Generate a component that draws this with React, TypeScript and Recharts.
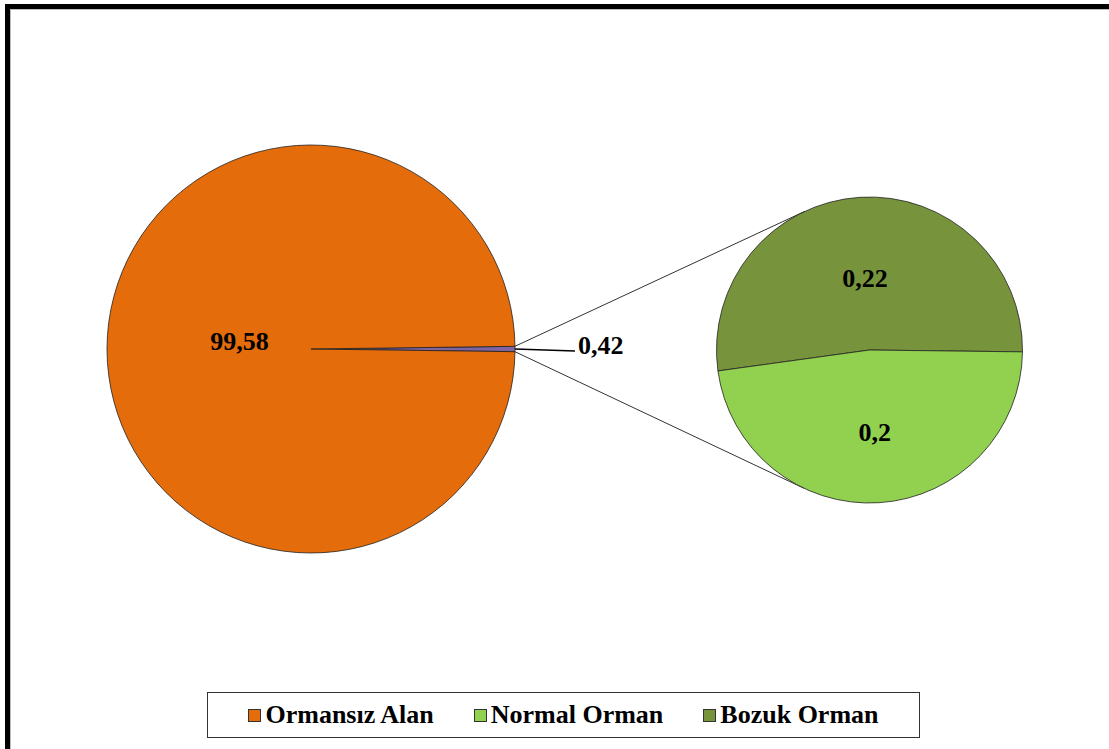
import { Cell, Pie, PieChart } from 'recharts'

const mainCategories = ['Orman', 'Ormansız Alan']
const mainValues = [0.42, 99.58]
const forestCategories = ['Bozuk Orman', 'Normal Orman']
const forestValues = [0.22, 0.2]
const legendLabels = ['Ormansız Alan', 'Normal Orman', 'Bozuk Orman']

const COLORS: Record<string, string> = {
  Orman: '#8064A2',
  'Ormansız Alan': '#E46C0A',
  'Normal Orman': '#92D050',
  'Bozuk Orman': '#77933C',
}

const FONT = '"Liberation Serif", "Times New Roman", serif'
const RAD = Math.PI / 180

// pie geometry (px)
const MAIN = { cx: 311, cy: 349, r: 204 }
const SUB = { cx: 869.5, cy: 350, r: 153 }

const mainData = mainCategories.map((name, i) => ({ name, value: mainValues[i] }))
const forestData = forestCategories.map((name, i) => ({ name, value: forestValues[i] }))

const fmt = (v: number) => String(v).replace('.', ',')

// forest slice sits centred on 3 o'clock of the main pie
const mainTotal = mainValues.reduce((a, b) => a + b, 0)
const forestSweep = (mainValues[0] / mainTotal) * 360
const mainStart = -forestSweep / 2
const subStart = -0.7

function polar(cx: number, cy: number, r: number, deg: number) {
  return { x: cx + r * Math.cos(-deg * RAD), y: cy + r * Math.sin(-deg * RAD) }
}

function mainLabel(props: any) {
  const { cx, cy, outerRadius, midAngle, value, index } = props
  if (index === 0) {
    const p0 = polar(cx, cy, outerRadius, midAngle)
    const x1 = p0.x + 60
    const y1 = p0.y + 2
    return (
      <g key={`ml-${index}`}>
        <polyline points={`${p0.x},${p0.y} ${x1},${y1}`} stroke="#000" strokeWidth={1.5} fill="none" />
        <text x={x1 + 3} y={y1 - 6} dominantBaseline="central" fontFamily={FONT} fontWeight="bold" fontSize={26} fill="#000">
          {fmt(value)}
        </text>
      </g>
    )
  }
  const p = polar(cx, cy, outerRadius * 0.35, midAngle)
  return (
    <text key={`ml-${index}`} x={p.x} y={p.y - 8} textAnchor="middle" dominantBaseline="central" fontFamily={FONT} fontWeight="bold" fontSize={26} fill="#000">
      {fmt(value)}
    </text>
  )
}

function forestLabel(props: any) {
  const { cx, cy, outerRadius, midAngle, value, index } = props
  const p = polar(cx, cy, outerRadius * (index === 0 ? 0.47 : 0.54), midAngle)
  return (
    <text key={`fl-${index}`} x={p.x} y={p.y} textAnchor="middle" dominantBaseline="central" fontFamily={FONT} fontWeight="bold" fontSize={26} fill="#000">
      {fmt(value)}
    </text>
  )
}

// tangent lines from the forest wedge edges to the secondary pie
function connectors() {
  const half = forestSweep / 2
  return [half, -half].map((edge) => {
    const p = polar(MAIN.cx, MAIN.cy, MAIN.r, edge)
    const dx = p.x - SUB.cx
    const dy = p.y - SUB.cy
    const d = Math.hypot(dx, dy)
    const phi = Math.atan2(dy, dx)
    const alpha = Math.acos(SUB.r / d)
    const theta = edge > 0 ? phi + alpha : phi - alpha
    return { x1: p.x, y1: p.y, x2: SUB.cx + SUB.r * Math.cos(theta), y2: SUB.cy + SUB.r * Math.sin(theta) }
  })
}

export default function App() {
  return (
    <div style={{ position: 'absolute', left: 0, top: 0, width: 1109, height: 749, overflow: 'hidden', background: '#fff' }}>
      <div style={{ position: 'absolute', left: 5, top: 4, width: 1200, height: 900, border: '5px solid #000' }}>
        <div style={{ width: '100%', height: '100%', borderLeft: '1px solid #bbb', borderTop: '1px solid #bbb' }} />
      </div>

      <svg width={1109} height={749} style={{ position: 'absolute', left: 0, top: 0 }}>
        {connectors().map((l, i) => (
          <line key={i} {...l} stroke="#333" strokeWidth={1} />
        ))}
      </svg>

      <div style={{ position: 'absolute', left: 0, top: 0 }}>
        <PieChart width={1109} height={749} margin={{ top: 0, right: 0, bottom: 0, left: 0 }}>
          <Pie
            data={mainData}
            dataKey="value"
            nameKey="name"
            cx={MAIN.cx}
            cy={MAIN.cy}
            outerRadius={MAIN.r}
            startAngle={mainStart}
            endAngle={mainStart + 360}
            stroke="#222"
            strokeWidth={0.8}
            label={mainLabel}
            labelLine={false}
            isAnimationActive={false}
          >
            {mainData.map((d) => (
              <Cell key={d.name} fill={COLORS[d.name]} />
            ))}
          </Pie>
          <Pie
            data={forestData}
            dataKey="value"
            nameKey="name"
            cx={SUB.cx}
            cy={SUB.cy}
            outerRadius={SUB.r}
            startAngle={subStart}
            endAngle={subStart + 360}
            stroke="#222"
            strokeWidth={0.8}
            label={forestLabel}
            labelLine={false}
            isAnimationActive={false}
          >
            {forestData.map((d) => (
              <Cell key={d.name} fill={COLORS[d.name]} />
            ))}
          </Pie>
        </PieChart>
      </div>

      <div
        style={{
          position: 'absolute',
          left: 207,
          top: 692,
          width: 713,
          height: 46,
          boxSizing: 'border-box',
          border: '1px solid #333',
          display: 'flex',
          alignItems: 'center',
          justifyContent: 'center',
          gap: 40,
          fontFamily: FONT,
          fontWeight: 'bold',
          fontSize: 26,
          color: '#000',
        }}
      >
        {legendLabels.map((name) => (
          <div key={name} style={{ display: 'flex', alignItems: 'center', gap: 4 }}>
            <span style={{ width: 11, height: 11, background: COLORS[name], border: '1px solid #333' }} />
            <span>{name}</span>
          </div>
        ))}
      </div>
    </div>
  )
}
